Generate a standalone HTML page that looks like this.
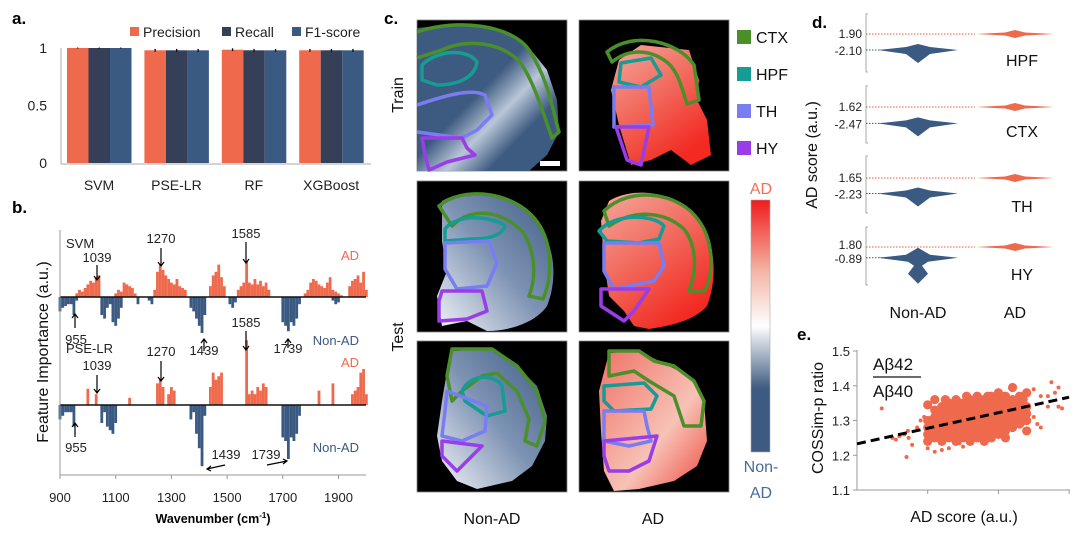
<!DOCTYPE html>
<html><head><meta charset="utf-8"><style>
html,body{margin:0;padding:0;background:#fff;width:1080px;height:536px;overflow:hidden}
svg text{font-family:"Liberation Sans",sans-serif}
</style></head><body>
<svg id="fig" width="1080" height="536" viewBox="0 0 1080 536" xmlns="http://www.w3.org/2000/svg">
<defs>
<linearGradient id="nonadG" x1="1" y1="0" x2="0" y2="1"><stop offset="0" stop-color="#3f5c86"/><stop offset="0.5" stop-color="#7f94b4"/><stop offset="1" stop-color="#f2f4f8"/></linearGradient>
<linearGradient id="nonadT" x1="0" y1="0" x2="1" y2="1"><stop offset="0" stop-color="#3d5a80"/><stop offset="0.45" stop-color="#3d5a80"/><stop offset="0.6" stop-color="#b9c6d8"/><stop offset="0.75" stop-color="#3d5a80"/></linearGradient>
<linearGradient id="adG" x1="0" y1="0" x2="0.6" y2="1"><stop offset="0" stop-color="#f4a79c"/><stop offset="0.5" stop-color="#f26a5e"/><stop offset="1" stop-color="#f22a22"/></linearGradient>
<linearGradient id="adT" x1="0" y1="0" x2="1" y2="1"><stop offset="0" stop-color="#f07066"/><stop offset="0.6" stop-color="#f7c2b6"/><stop offset="1" stop-color="#f04a40"/></linearGradient>
<linearGradient id="cbar" x1="0" y1="0" x2="0" y2="1"><stop offset="0" stop-color="#f01c1c"/><stop offset="0.28" stop-color="#f3b4a4"/><stop offset="0.5" stop-color="#ffffff"/><stop offset="0.75" stop-color="#3d5a80"/><stop offset="1" stop-color="#3d5a80"/></linearGradient>
</defs>
<g id="pa"></g>
<g id="pb"></g>
<g id="pc"></g>
<g id="pd"></g>
<g id="pe"></g>
</svg>
<script>
// ---------- Panel a data ----------
const aModels = ["SVM","PSE-LR","RF","XGBoost"];
const aPrecision = [1.0,0.98,0.985,0.98];
const aRecall = [1.0,0.98,0.98,0.98];
const aF1 = [1.0,0.98,0.98,0.98];
const aErr = [0.004,0.012,0.012,0.012];
const aTicks = [0,0.5,1];
// ---------- Panel b data (wavenumber 900..2000 step 10) ----------
const bTicks = [900,1100,1300,1500,1700,1900];
const svmAD = [0,0,0,0,0,0,.1,.2,.15,.25, .35,.45,.4,.55,.6,0,0,0,0,0, .1,.2,.15,.4,.35,.3,.25,.1,0,0, 0,0,0,0,.2,.7,.9,.75,.6,.5, .4,.35,.5,.3,.25,.2,0,0,0,0, 0,0,0,0,.3,.6,.7,.9,.55,.3, 0,0,0,0,.2,.3,.4,1.0,.4,.35, .5,.35,.45,.3,.4,.2,0,0,0,0, 0,0,0,0,0,0,0,0,.1,.2, .4,.5,.45,.35,.3,.25,.4,.55,.2,.15, .1,.05,0,0,.3,.45,.5,.6,.4,.7, .2];
const svmNon = [.4,.3,.25,.2,.2,.5,.1,0,0,0, 0,0,0,0,0,.5,.6,.3,.2,.7, .8,.6,.3,0,0,0,0,0,.2,0, 0,0,.1,.2,0,0,0,0,0,0, 0,0,0,0,0,0,0,.3,.4,.6, .8,1.0,.5,0,0,0,0,0,0,0, 0,.2,.3,.15,0,0,0,0,0,0, 0,0,0,0,0,0,0,0,0,0, .7,.8,.95,.7,.8,.6,.2,0,0,0, 0,0,0,0,0,0,0,0,.1,.2, .15,0,0,0,0,0,0,0,0,0, 0];
const pseAD = [0,0,0,0,0,0,0,0,0,0, .45,0,0,.3,0,0,0,0,0,0, 0,0,0,0,0,.2,0,0,0,0, 0,0,0,0,0,.6,.7,.5,0,.3, .5,.4,0,0,0,0,0,0,0,0, 0,0,0,0,.5,.9,.7,.8,.9,0, 0,0,0,0,0,0,0,1.8,.3,.4, .3,.5,.4,.6,.5,0,0,0,0,0, 0,0,0,0,0,0,0,0,0,0, 0,0,0,.4,0,0,0,0,.6,0, 0,0,0,0,0,.3,.4,.5,.9,1.0, .3];
const pseNon = [.4,.3,.2,.2,.2,.6,0,0,0,0, 0,0,0,0,0,.5,.2,.6,.7,.8, .5,0,0,0,0,0,0,0,0,0, 0,0,0,0,0,0,0,0,0,0, 0,0,0,0,0,0,0,.4,.2,.8, 1.2,1.7,.3,0,0,0,0,0,0,0, 0,0,0,0,0,0,0,0,0,0, 0,0,0,0,0,0,0,0,0,0, .9,1.0,1.5,.9,1.0,.8,.3,0,0,0, 0,0,0,0,0,0,0,0,0,0, 0,0,0,0,0,0,0,0,0,0, 0];
// ---------- Panel d data ----------
const dRegions = ["HPF","CTX","TH","HY"];
const dAD = [1.90,1.62,1.65,1.80];
const dNon = [-2.10,-2.47,-2.23,-0.89];
// ---------- Panel e data ----------
const eYTicks = [1.1,1.2,1.3,1.4,1.5];
const eFit = [1.233,1.367];
const ePoints = [[0.35,1.335],[0.5,1.25],[0.6,1.255],[0.67,1.26],[0.55,1.245],[0.72,1.27],[0.73,1.25],[0.7,1.195],[0.78,1.23],[0.85,1.28],[0.9,1.3],[0.95,1.31],[1.0,1.345],[1.1,1.36],[2.2,1.395],[2.4,1.38],[2.5,1.39],[2.6,1.37],[2.7,1.37],[2.75,1.41],[2.8,1.38],[2.85,1.395],[2.7,1.34],[2.85,1.34],[2.9,1.335],[2.5,1.31],[2.55,1.29],[2.6,1.28],[1.0,1.22],[1.1,1.21],[1.3,1.22],[1.5,1.225],[1.2,1.215],[1.45,1.235],[2.1,1.25],[2.3,1.3],[2.4,1.27],
[1.0,1.24],[1.0,1.26],[1.0,1.28],[1.0,1.3],[1.1,1.25],[1.1,1.27],[1.1,1.29],[1.1,1.31],[1.1,1.33],[1.2,1.24],[1.2,1.26],[1.2,1.28],[1.2,1.3],[1.2,1.32],[1.2,1.34],[1.3,1.25],[1.3,1.27],[1.3,1.29],[1.3,1.31],[1.3,1.33],[1.3,1.35],[1.4,1.24],[1.4,1.26],[1.4,1.28],[1.4,1.3],[1.4,1.32],[1.4,1.34],[1.4,1.36],[1.5,1.25],[1.5,1.27],[1.5,1.29],[1.5,1.31],[1.5,1.33],[1.5,1.35],[1.6,1.24],[1.6,1.26],[1.6,1.28],[1.6,1.3],[1.6,1.32],[1.6,1.34],[1.6,1.36],[1.7,1.25],[1.7,1.27],[1.7,1.29],[1.7,1.31],[1.7,1.33],[1.7,1.35],[1.7,1.37],[1.8,1.24],[1.8,1.26],[1.8,1.28],[1.8,1.3],[1.8,1.32],[1.8,1.34],[1.8,1.36],[1.9,1.25],[1.9,1.27],[1.9,1.29],[1.9,1.31],[1.9,1.33],[1.9,1.35],[1.9,1.37],[2.0,1.26],[2.0,1.28],[2.0,1.3],[2.0,1.32],[2.0,1.34],[2.0,1.36],[2.0,1.38],[2.1,1.27],[2.1,1.29],[2.1,1.31],[2.1,1.33],[2.1,1.35],[2.1,1.37],[2.2,1.28],[2.2,1.3],[2.2,1.32],[2.2,1.34],[2.2,1.36],[2.3,1.29],[2.3,1.31],[2.3,1.33],[2.3,1.35],[2.3,1.37],[2.4,1.3],[2.4,1.32],[2.4,1.34],
[1.05,1.27],[1.05,1.3],[1.15,1.26],[1.15,1.32],[1.25,1.29],[1.25,1.36],[1.35,1.26],[1.35,1.3],[1.35,1.33],[1.45,1.28],[1.45,1.31],[1.45,1.35],[1.55,1.26],[1.55,1.3],[1.55,1.34],[1.55,1.37],[1.65,1.27],[1.65,1.31],[1.65,1.35],[1.75,1.28],[1.75,1.32],[1.75,1.36],[1.85,1.29],[1.85,1.33],[1.85,1.37],[1.95,1.28],[1.95,1.32],[1.95,1.36],[2.05,1.29],[2.05,1.33],[2.05,1.37],[2.15,1.3],[2.15,1.34],[2.25,1.31],[2.25,1.35],[2.35,1.3],[2.35,1.36]];

const NS="http://www.w3.org/2000/svg";
function mk(parent,tag,attrs,txt){const e=document.createElementNS(NS,tag);for(const k in attrs)e.setAttribute(k,attrs[k]);if(txt!==undefined)e.textContent=txt;parent.appendChild(e);return e;}
const ORANGE="#ef6a4c", NAVY="#353f57", BLUE="#3b5a82";

// ===== Panel a =====
(function(){
const g=document.getElementById('pa');
const ya=v=>163-v*115;
const gx=i=>99+i*77.4;
let t=mk(g,'text',{x:12,y:24,'font-size':17,'font-weight':'bold'},'a.');

const leg=[["Precision",ORANGE,130],["Recall",NAVY,222],["F1-score",BLUE,292]];
leg.forEach(l=>{let r=mk(g,'rect',{x:l[2],y:27,width:9,height:9,fill:l[1]});

let tx=mk(g,'text',{x:l[2]+13,y:37,'font-size':14,fill:'#222'},l[0]);
});
aTicks.forEach(v=>{let tx=mk(g,'text',{x:47,y:ya(v)+5,'font-size':14,'text-anchor':'end',fill:'#222'},String(v));
});
const series=[aPrecision,aRecall,aF1], cols=[ORANGE,NAVY,BLUE];
aModels.forEach((m,i)=>{
series.forEach((s,j)=>{const x=gx(i)-32+j*21.5;
let r=mk(g,'rect',{x:x,y:ya(s[i]),width:21.5,height:163-ya(s[i]),fill:cols[j]});

let e=mk(g,'line',{x1:x+10.75,x2:x+10.75,y1:ya(s[i]+aErr[i]),y2:ya(s[i]-aErr[i]),stroke:'#000','stroke-width':1.3});
});
let tx=mk(g,'text',{x:gx(i),y:190,'font-size':14,'text-anchor':'middle',fill:'#222'},m);
});
let ax=mk(g,'path',{d:'M61,48 V164 H371',fill:'none',stroke:'#bbb','stroke-width':1.2});

})();

// ===== Panel b =====
(function(){
const g=document.getElementById('pb');
const xb=w=>60+(w-900)*0.2785;
const U=36;
let t=mk(g,'text',{x:12,y:213,'font-size':17,'font-weight':'bold'},'b.');

function draw(arr,base,sign,col,name){arr.forEach((v,i)=>{if(!v)return;const w=900+i*10;
const h=v*U;let r=mk(g,'rect',{x:xb(w)-1.4,y:sign>0?base-h:base,width:2.8,height:h,fill:col});
});}
draw(svmAD,297,1,ORANGE,'svm-ad-importance');draw(svmNon,297,-1,BLUE,'svm-nonad-importance');
draw(pseAD,405,1,ORANGE,'pse-ad-importance');draw(pseNon,405,-1,BLUE,'pse-nonad-importance');
[297,405].forEach(y=>{let l=mk(g,'line',{x1:60,x2:366,y1:y,y2:y,stroke:'#111','stroke-width':1.6});
});
let ax=mk(g,'path',{d:'M60,230 V475 H366',fill:'none',stroke:'#999','stroke-width':1});

bTicks.forEach(w=>{mk(g,'line',{x1:xb(w),x2:xb(w),y1:475,y2:479,stroke:'#999'});
let tx=mk(g,'text',{x:xb(w),y:502,'font-size':13,'text-anchor':'middle',fill:'#222'},String(w));
});
let xl=mk(g,'text',{x:213,y:523,'font-size':12.5,'font-weight':'bold','text-anchor':'middle'});
xl.innerHTML='Wavenumber (cm<tspan dy="-5" font-size="8">-1</tspan><tspan dy="5">)</tspan>';

let yl=mk(g,'text',{x:0,y:0,'font-size':16,'text-anchor':'middle',transform:'translate(48,352) rotate(-90)',fill:'#111'},'Feature Importance (a.u.)');

const labels=[["SVM",66,248,'start','#222'],["1039",97,262,'middle','#222'],["1270",161,243,'middle','#222'],["1585",246,238,'middle','#222'],["AD",359,260,'end',ORANGE],["955",76,344,'middle','#222'],["Non-AD",359,345,'end',BLUE],
["PSE-LR",66,353,'start','#222'],["1039",97,370,'middle','#222'],["1270",161,356,'middle','#222'],["1439",204,355,'middle','#222'],["1585",246,327,'middle','#222'],["1739",288,353,'middle','#222'],["AD",359,367,'end',ORANGE],["955",76,452,'middle','#222'],["1439",226,459,'middle','#222'],["1739",266,459,'middle','#222'],["Non-AD",359,452,'end',BLUE]];
labels.forEach(l=>{let tx=mk(g,'text',{x:l[1],y:l[2],'font-size':13,'text-anchor':l[3],fill:l[4]},l[0]);
});
const arrows=[[97,265,280],[161,248,266],[246,242,263],[75,328,314],[246,331,350],[204,351,339],[288,348,339],[161,361,381],[97,375,393],[75,437,423]];
arrows.forEach(a=>{const dir=a[2]>a[1]?1:-1;
let p=mk(g,'path',{d:`M${a[0]},${a[1]} V${a[2]} M${a[0]-3},${a[2]-4*dir} L${a[0]},${a[2]} L${a[0]+3},${a[2]-4*dir}`,stroke:'#000','stroke-width':1.2,fill:'none'});
});
let a1=mk(g,'path',{d:'M225,465 L207,469 M211,466 L207,469 L211,471',stroke:'#000','stroke-width':1.2,fill:'none'});

let a2=mk(g,'path',{d:'M267,465 L287,461 M283,459 L287,461 L283,464',stroke:'#000','stroke-width':1.2,fill:'none'});

})();

// ===== Panel c =====
(function(){
const g=document.getElementById('pc');
let t=mk(g,'text',{x:384,y:24,'font-size':17,'font-weight':'bold'},'c.');

const panels=[[417,20,'train','non'],[579,20,'train','ad'],[417,181,'test1','non'],[579,181,'test1','ad'],[417,341,'test2','non'],[579,341,'test2','ad']];
const shapes={
 train_non:{body:'M0,8 L30,5 L80,8 L110,25 L130,50 L140,80 L142,112 L130,135 L112,151 L0,151 Z',
  ctx:'M0,12 C40,-2 95,5 112,30 C132,60 136,92 142,112 L135,118 C125,90 118,65 105,45 C88,22 50,18 25,30 L0,38',
  hpf:'M5,45 C20,30 50,28 60,42 C58,58 40,65 20,65 L5,60 Z',th:'M0,85 C30,75 55,68 68,75 L75,95 L60,110 L45,118 L0,112',hy:'M5,118 L45,118 L50,128 L58,135 L30,142 L12,150 L8,135 Z'},
 train_ad:{body:'M62,25 L110,30 L120,60 L118,80 L128,100 L132,135 L112,145 L92,130 L72,140 L52,145 L40,105 L32,70 L40,40 Z',
  ctx:'M28,32 C55,10 100,22 115,45 L120,80 L108,84 C102,65 98,48 85,40 C70,30 50,28 33,42 Z',
  hpf:'M42,43 L72,38 L82,55 L62,67 L40,62 Z',th:'M35,67 L70,67 L74,105 L35,107 Z',hy:'M37,107 L70,107 L62,145 L48,140 Z'},
 test1_non:{body:'M25,20 C50,5 95,10 118,38 C140,65 140,100 130,125 C120,140 95,150 70,150 L50,140 L25,145 L20,115 L30,90 L25,60 Z',
  ctx:'M22,25 C45,5 95,10 118,38 C136,60 136,95 126,118 L112,115 C120,95 118,68 105,50 C85,30 55,25 35,45 Z',
  hpf:'M28,48 C40,32 75,35 88,45 C85,55 70,58 55,58 L28,60 Z',th:'M28,62 L72,60 L80,82 L70,105 L40,108 L28,88 Z',hy:'M25,110 L65,110 L70,130 L50,138 L22,140 L22,120 Z'},
 test1_ad:{body:'M30,20 C55,5 95,10 118,35 C135,55 140,95 128,125 C115,140 90,145 70,148 L55,145 L45,130 L30,115 L25,80 L22,40 Z',
  ctx:'M25,30 C50,5 100,10 120,40 C135,60 135,95 125,110 L110,110 C118,90 118,65 105,48 C85,30 55,28 30,45 Z',
  hpf:'M20,50 C35,32 75,33 85,45 L80,58 L60,62 L28,60 Z',th:'M25,62 L80,62 L85,85 L75,100 L35,108 L25,90 Z',hy:'M22,108 L70,108 L55,130 L45,140 L22,125 Z'},
 test2_non:{body:'M35,10 L75,8 L100,25 L120,45 L130,75 L128,100 L115,125 L95,140 L60,148 L40,140 L25,120 L20,95 L25,60 L30,30 Z',
  ctx:'M35,8 L75,8 L100,25 L120,50 L128,80 L120,105 L108,100 L112,78 L100,50 L80,32 L65,35 L45,50 L35,60 L30,35 Z',
  hpf:'M45,50 C55,30 80,35 85,45 L88,70 L70,75 L48,60 Z',th:'M30,50 L70,65 L68,90 L45,100 L25,95 L28,70 Z',hy:'M25,100 L65,105 L50,120 L40,130 L25,115 Z'},
 test2_ad:{body:'M30,12 L60,10 L80,20 L110,35 L125,60 L128,100 L118,125 L95,140 L60,148 L35,150 L25,130 L22,90 L20,50 Z',
  ctx:'M30,10 L60,10 L75,20 L95,25 L115,40 L125,60 L122,85 L105,85 L95,55 L70,40 L55,30 L30,35 Z',
  hpf:'M25,45 L65,42 L78,55 L72,68 L35,70 L25,60 Z',th:'M25,70 L65,70 L68,85 L72,100 L50,105 L25,100 Z',hy:'M25,100 L78,95 L70,120 L50,130 L30,130 L25,115 Z'}
};
panels.forEach(p=>{const gp=mk(g,'g',{transform:`translate(${p[0]},${p[1]})`});

mk(gp,'rect',{x:0,y:0,width:150,height:151,fill:'#000',stroke:'#888','stroke-width':0.8});
const s=shapes[p[2]+'_'+p[3]];
const fill = p[3]==='non' ? (p[2]==='train'?'url(#nonadT)':'url(#nonadG)') : (p[2]==='test2'?'url(#adT)':'url(#adG)');
mk(gp,'path',{d:s.body,fill:fill});
const oc=[['ctx','#4b8f2b'],['hpf','#159c94'],['th','#7a7cf2'],['hy','#9a3de8']];
oc.forEach(o=>{let e=mk(gp,'path',{d:s[o[0]],fill:'none',stroke:o[1],'stroke-width':3.5,'stroke-linejoin':'round'});
});
});
mk(g,'rect',{x:540,y:161,width:20,height:5,fill:'#fff'});
let tr=mk(g,'text',{x:0,y:0,'font-size':16,'text-anchor':'middle',transform:'translate(403,95) rotate(-90)',fill:'#111'},'Train');

let te=mk(g,'text',{x:0,y:0,'font-size':16,'text-anchor':'middle',transform:'translate(403,337) rotate(-90)',fill:'#111'},'Test');

let c1=mk(g,'text',{x:492,y:524,'font-size':16,'text-anchor':'middle',fill:'#111'},'Non-AD');

let c2=mk(g,'text',{x:653,y:524,'font-size':16,'text-anchor':'middle',fill:'#111'},'AD');

const rl=[['CTX','#4b8f2b',30],['HPF','#159c94',67],['TH','#7a7cf2',104],['HY','#9a3de8',141]];
rl.forEach(r=>{let s=mk(g,'rect',{x:737,y:r[2],width:14,height:14,fill:r[1]});

let tx=mk(g,'text',{x:756,y:r[2]+13,'font-size':16,fill:'#111'},r[0]);
});
let cb=mk(g,'rect',{x:751,y:200,width:19,height:252,fill:'url(#cbar)',stroke:'#aaa','stroke-width':0.6});

let ca=mk(g,'text',{x:761,y:194,'font-size':16,'text-anchor':'middle',fill:'#f07055'},'AD');

let cn=mk(g,'text',{x:761,y:472,'font-size':16,'text-anchor':'middle',fill:'#4a6a9a'},'Non-');

let cn2=mk(g,'text',{x:761,y:498,'font-size':16,'text-anchor':'middle',fill:'#4a6a9a'},'AD');

})();

// ===== Panel d =====
(function(){
const g=document.getElementById('pd');
let t=mk(g,'text',{x:812,y:28,'font-size':17,'font-weight':'bold'},'d.');

const zero=[41.6,113.5,184.6,254.2], top=[14,86,156,227], bot=[72,143,213,285], labY=[66,137,212,280];
const ys=(i,v)=>zero[i]-v*4;
dRegions.forEach((r,i)=>{
let ax=mk(g,'path',{d:`M868,${top[i]} H866 V${bot[i]} H868`,fill:'none',stroke:'#aaa'});

const ya=ys(i,dAD[i]), yn=ys(i,dNon[i]);
let l1=mk(g,'line',{x1:866,x2:975,y1:ya,y2:ya,stroke:'#f05a3a','stroke-dasharray':'1.5,1.5','stroke-width':1});

let l2=mk(g,'line',{x1:866,x2:885,y1:yn,y2:yn,stroke:'#3b5a82','stroke-dasharray':'1.5,1.5','stroke-width':1});

const cx=918, ca=1015;
let dNonPath = r==='HY' ? `M${cx-40},${yn} L${cx-12},${yn-3} L${cx},${yn-10} L${cx+12},${yn-3} L${cx+40},${yn} L${cx+10},${yn+4} L${cx+4},${yn+8} L${cx+10},${yn+16} L${cx},${yn+26} L${cx-10},${yn+16} L${cx-4},${yn+8} L${cx-10},${yn+4} Z`
 : `M${cx-40},${yn} L${cx-12},${yn-3} L${cx},${yn-6} L${cx+12},${yn-3} L${cx+40},${yn} L${cx+12},${yn+4} L${cx},${yn+13} L${cx-12},${yn+4} Z`;
let v1=mk(g,'path',{d:dNonPath,fill:'#3b5a82'});

let v2=mk(g,'path',{d:`M${ca-39},${ya} L${ca-10},${ya-1.5} L${ca},${ya-4} L${ca+10},${ya-1.5} L${ca+39},${ya} L${ca+10},${ya+1.5} L${ca},${ya+4} L${ca-10},${ya+1.5} Z`,fill:'#ef6a4c'});

let ta=mk(g,'text',{x:862,y:ya+(i===3?2:4),'font-size':12,'text-anchor':'end',fill:'#222'},dAD[i].toFixed(2));

let tn=mk(g,'text',{x:862,y:yn+5,'font-size':12,'text-anchor':'end',fill:'#222'},dNon[i].toFixed(2));

let rt=mk(g,'text',{x:1022,y:labY[i],'font-size':16,'text-anchor':'middle',fill:'#111'},r);
});
let yl=mk(g,'text',{x:0,y:0,'font-size':16,'text-anchor':'middle',transform:'translate(817,155) rotate(-90)',fill:'#111'},'AD score (a.u.)');

let x1=mk(g,'text',{x:918,y:318,'font-size':16,'text-anchor':'middle',fill:'#111'},'Non-AD');

let x2=mk(g,'text',{x:1015,y:318,'font-size':16,'text-anchor':'middle',fill:'#111'},'AD');

})();

// ===== Panel e =====
(function(){
const g=document.getElementById('pe');
const xe=v=>857+v*70.7, ye=v=>490-(v-1.1)*347.5;
let t=mk(g,'text',{x:797,y:340,'font-size':17,'font-weight':'bold'},'e.');

let ax=mk(g,'path',{d:`M857,350 V490 H1070`,fill:'none',stroke:'#999'});

eYTicks.forEach(v=>{mk(g,'line',{x1:853,x2:857,y1:ye(v),y2:ye(v),stroke:'#999'});
let tx=mk(g,'text',{x:850,y:ye(v)+5,'font-size':13,'text-anchor':'end',fill:'#222'},v.toFixed(1));
});
[1,2,3].forEach(v=>mk(g,'line',{x1:xe(v),x2:xe(v),y1:490,y2:494,stroke:'#999'}));
ePoints.forEach(p=>{const core=(p[0]>0.95&&p[0]<2.45&&p[1]>1.235);
let c=mk(g,'circle',{cx:xe(p[0]),cy:ye(p[1]),r:core?4.6:2.0,fill:'#ef6a4c'});
});
let fl=mk(g,'line',{x1:xe(0),y1:ye(eFit[0]),x2:xe(3),y2:ye(eFit[1]),stroke:'#000','stroke-width':3,'stroke-dasharray':'9,5'});

let f1=mk(g,'text',{x:873,y:370,'font-size':17,fill:'#111'},'Aβ42');

mk(g,'line',{x1:873,x2:921,y1:377,y2:377,stroke:'#111','stroke-width':1.2});
let f2=mk(g,'text',{x:873,y:397,'font-size':17,fill:'#111'},'Aβ40');

let yl=mk(g,'text',{x:0,y:0,'font-size':16,'text-anchor':'middle',transform:'translate(823,418) rotate(-90)',fill:'#111'},'COSSim-p ratio');

let xl=mk(g,'text',{x:964,y:522,'font-size':16,'text-anchor':'middle',fill:'#111'},'AD score (a.u.)');

})();
</script>
</body></html>
